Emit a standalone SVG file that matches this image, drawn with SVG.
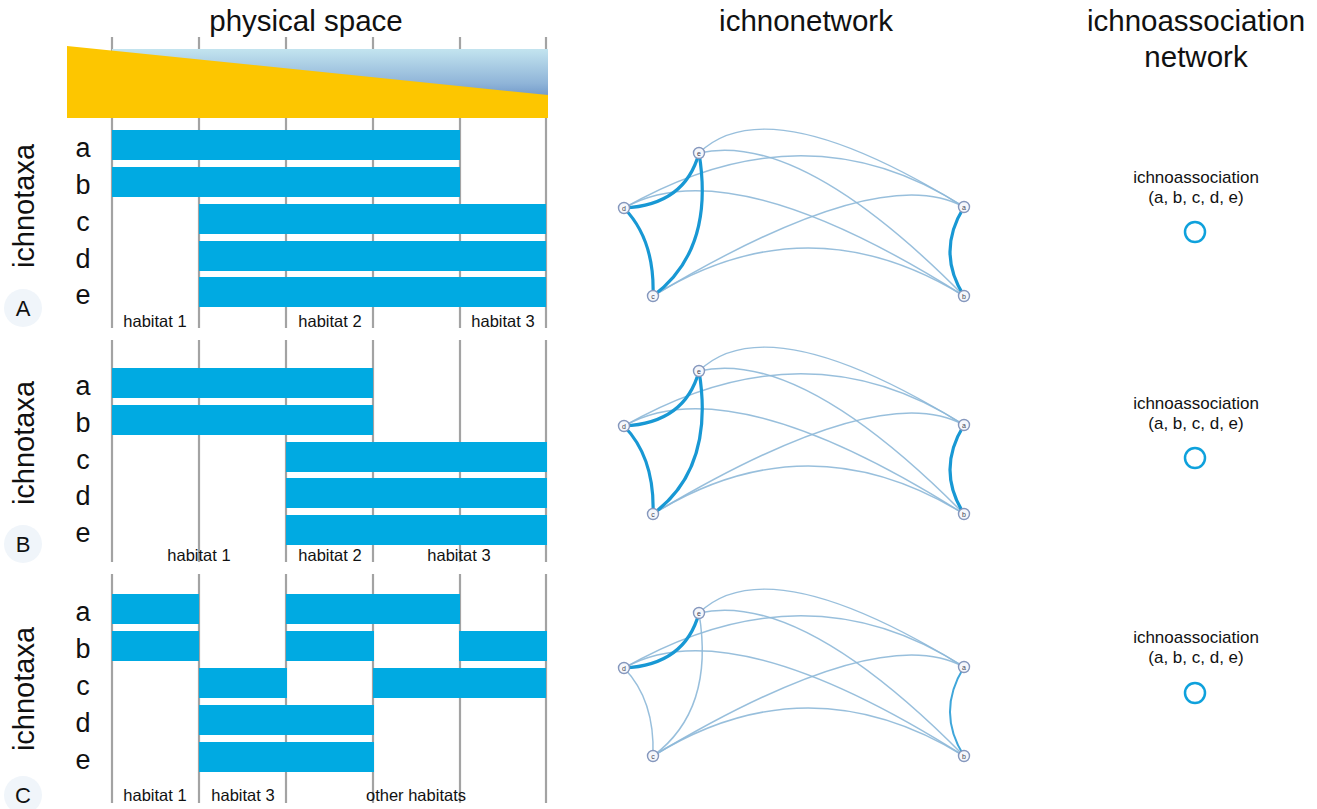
<svg xmlns="http://www.w3.org/2000/svg" width="1317" height="809" viewBox="0 0 1317 809">
<defs>
<linearGradient id="water" x1="0" y1="0" x2="0" y2="1">
<stop offset="0" stop-color="#c3e4ef"/>
<stop offset="0.5" stop-color="#8fb4d8"/>
<stop offset="1" stop-color="#3f6db3"/>
</linearGradient>
<style>
text{font-family:"Liberation Sans",Arial,sans-serif;fill:#111}
.title{font-size:29.5px;text-anchor:middle}
.taxon{font-size:27px;text-anchor:middle}
.vert{font-size:29px;text-anchor:middle}
.hab{font-size:16.5px;text-anchor:middle}
.assoc{font-size:17px;text-anchor:middle}
.panel{font-size:22px;text-anchor:middle}
.grid{stroke:#a3a3a3;stroke-width:2.2}
.bar{fill:#00aae2}
.pcirc{fill:#f0f5fa}
.ring{fill:none;stroke:#0ea1dc;stroke-width:2.5}
.thin{fill:none;stroke:#8db8d8;stroke-width:1.5;opacity:0.9}
.thick{fill:none;stroke:#1898d4;stroke-width:3.2}
.mid{fill:none;stroke:#3fa6da;stroke-width:2}
.nd{fill:#f5f7fb;stroke:#8597bd;stroke-width:1.4}
.nl{font-size:7px;text-anchor:middle;fill:#445}
</style>
</defs>
<rect width="1317" height="809" fill="#ffffff"/>

<!-- titles -->
<text class="title" x="306" y="31">physical space</text>
<text class="title" x="806" y="31">ichnonetwork</text>
<text class="title" x="1196" y="31">ichnoassociation</text>
<text class="title" x="1196" y="67">network</text>

<!-- Panel A -->
<g id="panelA">
<g class="grid">
<line x1="112" y1="37" x2="112" y2="328"/>
<line x1="199" y1="37" x2="199" y2="328"/>
<line x1="286" y1="37" x2="286" y2="328"/>
<line x1="373" y1="37" x2="373" y2="328"/>
<line x1="460" y1="37" x2="460" y2="328"/>
<line x1="546" y1="37" x2="546" y2="328"/>
</g>
<rect x="112" y="49" width="436" height="69" fill="url(#water)"/>
<polygon points="67,46 548,95 548,118 67,118" fill="#fdc600"/>
<rect class="bar" x="112" y="130" width="348" height="30"/>
<rect class="bar" x="112" y="167" width="348" height="30"/>
<rect class="bar" x="199" y="204" width="347" height="30"/>
<rect class="bar" x="199" y="241" width="347" height="30"/>
<rect class="bar" x="199" y="277" width="347" height="30"/>
<text class="taxon" x="83" y="157">a</text>
<text class="taxon" x="83" y="194">b</text>
<text class="taxon" x="83" y="231">c</text>
<text class="taxon" x="83" y="268">d</text>
<text class="taxon" x="83" y="304">e</text>
<text class="vert" transform="translate(34,206) rotate(-90)">ichnotaxa</text>
<circle class="pcirc" cx="23" cy="308" r="19"/>
<text class="panel" x="23" y="316">A</text>
<text class="hab" x="155" y="327">habitat 1</text>
<text class="hab" x="330" y="327">habitat 2</text>
<text class="hab" x="503" y="327">habitat 3</text>
</g>

<!-- Panel B -->
<g id="panelB">
<g class="grid">
<line x1="112" y1="340" x2="112" y2="562"/>
<line x1="199" y1="340" x2="199" y2="562"/>
<line x1="286" y1="340" x2="286" y2="562"/>
<line x1="373" y1="340" x2="373" y2="562"/>
<line x1="460" y1="340" x2="460" y2="562"/>
<line x1="546" y1="340" x2="546" y2="562"/>
</g>
<rect class="bar" x="112" y="368" width="261" height="30"/>
<rect class="bar" x="112" y="405" width="261" height="30"/>
<rect class="bar" x="286" y="442" width="261" height="30"/>
<rect class="bar" x="286" y="478" width="261" height="30"/>
<rect class="bar" x="286" y="515" width="261" height="30"/>
<text class="taxon" x="83" y="395">a</text>
<text class="taxon" x="83" y="432">b</text>
<text class="taxon" x="83" y="469">c</text>
<text class="taxon" x="83" y="505">d</text>
<text class="taxon" x="83" y="542">e</text>
<text class="vert" transform="translate(34,443) rotate(-90)">ichnotaxa</text>
<circle class="pcirc" cx="23" cy="544" r="19"/>
<text class="panel" x="23" y="552">B</text>
<text class="hab" x="199" y="561">habitat 1</text>
<text class="hab" x="330" y="561">habitat 2</text>
<text class="hab" x="459" y="561">habitat 3</text>
</g>

<!-- Panel C -->
<g id="panelC">
<g class="grid">
<line x1="112" y1="574" x2="112" y2="803"/>
<line x1="199" y1="574" x2="199" y2="803"/>
<line x1="286" y1="574" x2="286" y2="803"/>
<line x1="373" y1="574" x2="373" y2="803"/>
<line x1="460" y1="574" x2="460" y2="803"/>
<line x1="546" y1="574" x2="546" y2="803"/>
</g>
<rect class="bar" x="112" y="594" width="87" height="30"/>
<rect class="bar" x="286" y="594" width="174" height="30"/>
<rect class="bar" x="112" y="631" width="87" height="30"/>
<rect class="bar" x="286" y="631" width="88" height="30"/>
<rect class="bar" x="459" y="631" width="88" height="30"/>
<rect class="bar" x="199" y="668" width="88" height="30"/>
<rect class="bar" x="373" y="668" width="173" height="30"/>
<rect class="bar" x="199" y="705" width="175" height="30"/>
<rect class="bar" x="199" y="742" width="175" height="30"/>
<text class="taxon" x="83" y="621">a</text>
<text class="taxon" x="83" y="658">b</text>
<text class="taxon" x="83" y="695">c</text>
<text class="taxon" x="83" y="732">d</text>
<text class="taxon" x="83" y="769">e</text>
<text class="vert" transform="translate(34,689) rotate(-90)">ichnotaxa</text>
<circle class="pcirc" cx="23" cy="795" r="19"/>
<text class="panel" x="23" y="803">C</text>
<text class="hab" x="155" y="801">habitat 1</text>
<text class="hab" x="243" y="801">habitat 3</text>
<text class="hab" x="416" y="801">other habitats</text>
</g>

<!-- connectors -->
<g id="connectors">
<g id="edgesA">
<path class="thin" d="M699,153 Q768,86 964,207"/>
<path class="thin" d="M699,153 Q800,130 964,296"/>
<path class="thin" d="M624,208 Q806,104 964,207"/>
<path class="thin" d="M624,208 Q730,148 964,296"/>
<path class="thin" d="M653,296 Q880,160 964,207"/>
<path class="thin" d="M653,296 Q808,200 964,296"/>
<path class="thick" d="M624,208 Q685,205 699,153"/>
<path class="thick" d="M699,153 Q715,250 653,296"/>
<path class="thick" d="M624,208 Q655,240 653,296"/>
<path class="thick" d="M964,207 Q936,252 964,296"/>
</g>
<g id="edgesB" transform="translate(0,218)">
<path class="thin" d="M699,153 Q768,86 964,207"/>
<path class="thin" d="M699,153 Q800,130 964,296"/>
<path class="thin" d="M624,208 Q806,104 964,207"/>
<path class="thin" d="M624,208 Q730,148 964,296"/>
<path class="thin" d="M653,296 Q880,160 964,207"/>
<path class="thin" d="M653,296 Q808,200 964,296"/>
<path class="thick" d="M624,208 Q685,205 699,153"/>
<path class="thick" d="M699,153 Q715,250 653,296"/>
<path class="thick" d="M624,208 Q655,240 653,296"/>
<path class="thick" d="M964,207 Q936,252 964,296"/>
</g>
<g id="edgesC" transform="translate(0,460)">
<path class="thin" d="M699,153 Q768,86 964,207"/>
<path class="thin" d="M699,153 Q800,130 964,296"/>
<path class="thin" d="M624,208 Q806,104 964,207"/>
<path class="thin" d="M624,208 Q730,148 964,296"/>
<path class="thin" d="M653,296 Q880,160 964,207"/>
<path class="thin" d="M653,296 Q808,200 964,296"/>
<path class="thick" d="M624,208 Q685,205 699,153"/>
<path class="thin" d="M699,153 Q715,250 653,296"/>
<path class="thin" d="M624,208 Q655,240 653,296"/>
<path class="mid" d="M964,207 Q936,252 964,296"/>
</g>
</g>

<!-- network nodes A -->
<g id="nodeA-e"><circle class="nd" cx="699" cy="153" r="5.5"/><text class="nl" x="699" y="155.5">e</text></g>
<g id="nodeA-d"><circle class="nd" cx="624" cy="208" r="5.5"/><text class="nl" x="624" y="210.5">d</text></g>
<g id="nodeA-c"><circle class="nd" cx="653" cy="296" r="5.5"/><text class="nl" x="653" y="298.5">c</text></g>
<g id="nodeA-a"><circle class="nd" cx="964" cy="207" r="5.5"/><text class="nl" x="964" y="209.5">a</text></g>
<g id="nodeA-b"><circle class="nd" cx="964" cy="296" r="5.5"/><text class="nl" x="964" y="298.5">b</text></g>
<!-- network nodes B -->
<g id="nodeB-e"><circle class="nd" cx="699" cy="371" r="5.5"/><text class="nl" x="699" y="373.5">e</text></g>
<g id="nodeB-d"><circle class="nd" cx="624" cy="426" r="5.5"/><text class="nl" x="624" y="428.5">d</text></g>
<g id="nodeB-c"><circle class="nd" cx="653" cy="514" r="5.5"/><text class="nl" x="653" y="516.5">c</text></g>
<g id="nodeB-a"><circle class="nd" cx="964" cy="425" r="5.5"/><text class="nl" x="964" y="427.5">a</text></g>
<g id="nodeB-b"><circle class="nd" cx="964" cy="514" r="5.5"/><text class="nl" x="964" y="516.5">b</text></g>
<!-- network nodes C -->
<g id="nodeC-e"><circle class="nd" cx="699" cy="613" r="5.5"/><text class="nl" x="699" y="615.5">e</text></g>
<g id="nodeC-d"><circle class="nd" cx="624" cy="668" r="5.5"/><text class="nl" x="624" y="670.5">d</text></g>
<g id="nodeC-c"><circle class="nd" cx="653" cy="756" r="5.5"/><text class="nl" x="653" y="758.5">c</text></g>
<g id="nodeC-a"><circle class="nd" cx="964" cy="667" r="5.5"/><text class="nl" x="964" y="669.5">a</text></g>
<g id="nodeC-b"><circle class="nd" cx="964" cy="756" r="5.5"/><text class="nl" x="964" y="758.5">b</text></g>

<!-- ichnoassociation nodes -->
<g id="assocA">
<text class="assoc" x="1196" y="183">ichnoassociation</text>
<text class="assoc" x="1196" y="203">(a, b, c, d, e)</text>
<circle class="ring" cx="1195" cy="232" r="10"/>
</g>
<g id="assocB">
<text class="assoc" x="1196" y="409">ichnoassociation</text>
<text class="assoc" x="1196" y="429">(a, b, c, d, e)</text>
<circle class="ring" cx="1195" cy="458" r="10"/>
</g>
<g id="assocC">
<text class="assoc" x="1196" y="643">ichnoassociation</text>
<text class="assoc" x="1196" y="663">(a, b, c, d, e)</text>
<circle class="ring" cx="1195" cy="693" r="10"/>
</g>
</svg>
